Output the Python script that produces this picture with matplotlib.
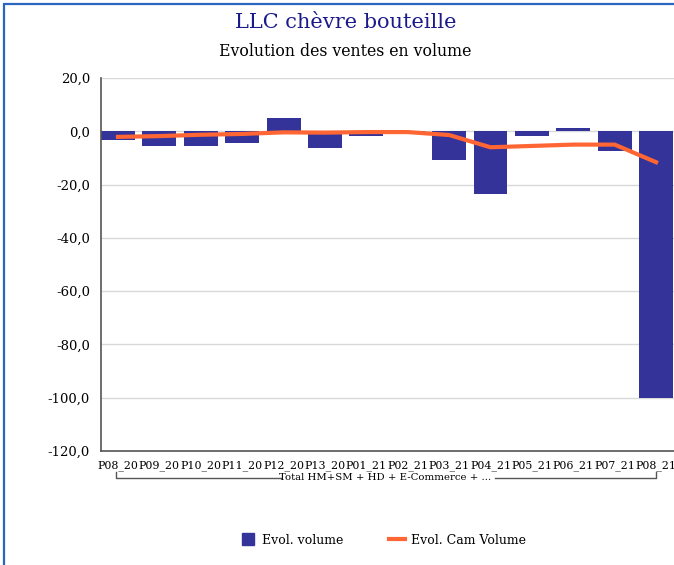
import numpy as np
import matplotlib.pyplot as plt
from matplotlib.patches import Rectangle
from matplotlib.lines import Line2D
import matplotlib.transforms as mtransforms

plt.rcParams['font.family'] = ['DejaVu Serif']

# periodes et valeurs
periodes = ['P08_20', 'P09_20', 'P10_20', 'P11_20', 'P12_20', 'P13_20', 'P01_21',
            'P02_21', 'P03_21', 'P04_21', 'P05_21', 'P06_21', 'P07_21', 'P08_21']
evol_volume = [-3.1, -5.4, -5.4, -4.3, 5.0, -6.1, -1.6,
               -1.0, -10.6, -23.4, -1.6, 1.2, -7.3, -100.0]
evol_cam_volume = [-2.1, -1.8, -1.3, -1.0, -0.4, -0.5, -0.3,
                   -0.3, -1.4, -6.0, -5.5, -5.0, -5.0, -11.6]
yticks = [20, 0, -20, -40, -60, -80, -100, -120]
groupe = 'Total HM+SM + HD + E-Commerce + ...'

W, H = 674, 565
fig = plt.figure(figsize=(W / 100, H / 100), dpi=100)

# cadre bleu autour du graphique
fig.patches.append(Rectangle((4 / W, -0.05), 1.2, 1 - 4 / H + 0.05, transform=fig.transFigure,
                             fill=False, edgecolor='#2a66c0', linewidth=1.6))

ax = fig.add_axes([101 / W, 1 - 451 / H, 589 / W, 373 / H])
x = np.arange(len(periodes))
ax.bar(x, evol_volume, width=0.82, color='#333399', zorder=2)
ax.plot(x, evol_cam_volume, color='#ff6633', linewidth=3, zorder=3)

ax.set_xlim(-0.41, 13.82)
ax.set_ylim(-120, 20)
ax.set_yticks(yticks)
ax.set_yticklabels([f'{v:.1f}'.replace('.', ',') for v in yticks], fontsize=9.5)
ax.set_xticks(x)
ax.set_xticklabels(periodes, fontsize=7.9)
ax.tick_params(axis='both', length=0)
ax.tick_params(axis='x', pad=7)
ax.tick_params(axis='y', pad=8)
ax.grid(axis='y', color='#d9d9d9', linewidth=1, zorder=0)
for s in ['top', 'right']:
    ax.spines[s].set_visible(False)
for s in ['left', 'bottom']:
    ax.spines[s].set_color('#555555')
    ax.spines[s].set_linewidth(1.2)

# accolade du groupe sous les periodes
trans = mtransforms.blended_transform_factory(ax.transData, fig.transFigure)
yb = 1 - 478 / H
yt = 1 - 472 / H
xl, xr = -0.05, 13.0
ax.plot([xl, xl, 3.95], [yt, yb, yb], color='#555555', lw=1, transform=trans, clip_on=False)
ax.plot([9.1, xr, xr], [yb, yb, yt], color='#555555', lw=1, transform=trans, clip_on=False)
fig.text(385 / W, yb, groupe, ha='center', va='center', fontsize=7.3)

fig.text(346 / W, 1 - 22 / H, 'LLC chèvre bouteille', ha='center', va='center',
         fontsize=15, color='#1a1a8c')
fig.text(345 / W, 1 - 52 / H, 'Evolution des ventes en volume', ha='center', va='center',
         fontsize=11.3)

# legende : carre pour les barres, trait pour la courbe
h_barres = Line2D([], [], linestyle='none', marker='s', markersize=9,
                  markerfacecolor='#333399', markeredgecolor='#333399')
h_ligne = Line2D([], [], color='#ff6633', linewidth=3)
fig.legend([h_barres, h_ligne], ['Evol. volume', 'Evol. Cam Volume'], loc='center',
           bbox_to_anchor=(383 / W, 1 - 540 / H), ncol=2, frameon=False,
           fontsize=9, handlelength=1.3, columnspacing=3.6, handletextpad=0.5)

fig.savefig('out.png', dpi=100)
